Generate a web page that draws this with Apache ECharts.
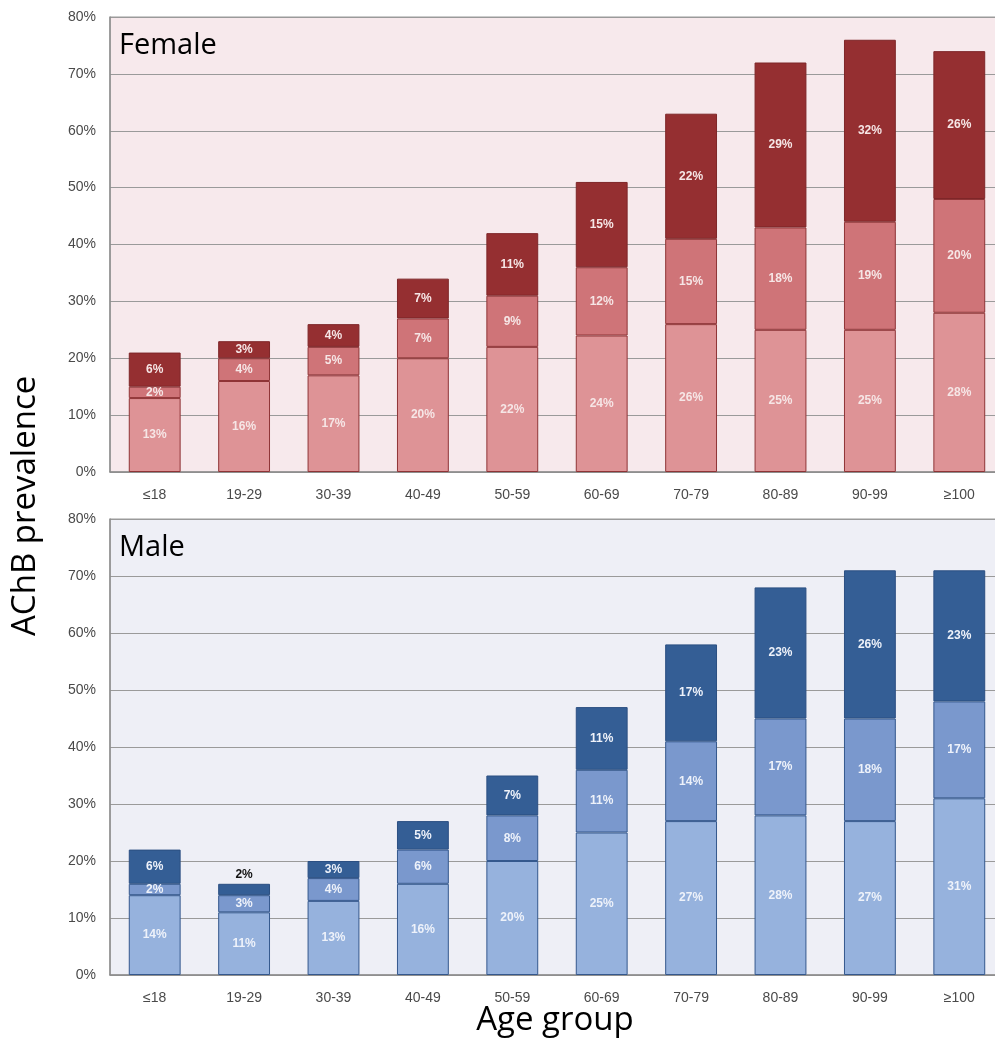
<!DOCTYPE html>
<html>
<head>
<meta charset="utf-8">
<script src="https://cdn.jsdelivr.net/npm/echarts@6/dist/echarts.min.js"></script>
<style>
  html, body { margin: 0; padding: 0; background: #ffffff; overflow: hidden; width: 995px; height: 1047px; }
  #chart { width: 1004px; height: 1047px; }
</style>
</head>
<body>
<div id="chart"></div>
<script>
// Age groups on the shared x axis
var ageGroups = ['≤18', '19-29', '30-39', '40-49', '50-59', '60-69', '70-79', '80-89', '90-99', '≥100'];
var yTicks = [0, 10, 20, 30, 40, 50, 60, 70, 80];

// Female prevalence (%) by burden level, stacked bottom → top
var femaleLow  = [13, 16, 17, 20, 22, 24, 26, 25, 25, 28];
var femaleMid  = [2, 4, 5, 7, 9, 12, 15, 18, 19, 20];
var femaleHigh = [6, 3, 4, 7, 11, 15, 22, 29, 32, 26];

// Male prevalence (%) by burden level, stacked bottom → top
var maleLow  = [14, 11, 13, 16, 20, 25, 27, 28, 27, 31];
var maleMid  = [2, 3, 4, 6, 8, 11, 14, 17, 18, 17];
var maleHigh = [6, 2, 3, 5, 7, 11, 17, 23, 26, 23];

var chart = echarts.init(document.getElementById('chart'), null, { renderer: 'canvas' });

var labelFont = 'Liberation Sans, Arial, sans-serif';

function insideLabel(color) {
  return {
    show: true,
    position: 'inside',
    color: color,
    fontFamily: labelFont,
    fontWeight: 'bold',
    fontSize: 12,
    formatter: function (p) { return p.value + '%'; }
  };
}

function seg(name, data, stack, xIdx, color, border, labelColor, special) {
  return {
    name: name,
    type: 'bar',
    stack: stack,
    xAxisIndex: xIdx,
    yAxisIndex: xIdx,
    barCategoryGap: '42%',
    data: data.map(function (v, i) {
      if (special && special[i]) {
        return { value: v, label: special[i] };
      }
      return v;
    }),
    itemStyle: { color: color, borderColor: border, borderWidth: 1 },
    label: insideLabel(labelColor),
    emphasis: { disabled: true }
  };
}

function xAxis(gridIndex) {
  return {
    type: 'category',
    gridIndex: gridIndex,
    data: ageGroups,
    axisLine: { show: true, lineStyle: { color: '#8c8c8c', width: 1.5 } },
    axisTick: { show: false },
    axisLabel: { color: '#4a4a4a', fontSize: 14, fontFamily: 'Liberation Sans, Arial, sans-serif', margin: 16 }
  };
}

function yAxis(gridIndex) {
  return {
    type: 'value',
    gridIndex: gridIndex,
    min: 0,
    max: 80,
    interval: 10,
    axisLine: { show: true, lineStyle: { color: '#8c8c8c', width: 1.5 } },
    axisTick: { show: false },
    splitLine: { show: true, lineStyle: { color: '#9a9a9a', width: 1 } },
    axisLabel: {
      color: '#4a4a4a', fontSize: 14, fontFamily: 'Liberation Sans, Arial, sans-serif', margin: 14,
      formatter: function (v) { return yTicks.indexOf(v) >= 0 ? v + '%' : ''; }
    }
  };
}

// The small top segment of 19-29 (male) has its label above the bar
var maleHighLabels = [];
maleHighLabels[1] = { position: 'top', color: '#111111', distance: 3 };

var option = {
  animation: false,
  backgroundColor: '#ffffff',
  grid: [
    { left: 110, top: 17, right: 0, height: 455, show: true, backgroundColor: '#f7e9ec', borderColor: '#9a9a9a', borderWidth: 1 },
    { left: 110, top: 519, right: 0, height: 456, show: true, backgroundColor: '#eeeff6', borderColor: '#9a9a9a', borderWidth: 1 }
  ],
  xAxis: [xAxis(0), xAxis(1)],
  yAxis: [yAxis(0), yAxis(1)],
  series: [
    seg('Female low', femaleLow, 'f', 0, '#de9396', '#8f3436', '#f6e6e6'),
    seg('Female mid', femaleMid, 'f', 0, '#cf7478', '#8f3436', '#f6e6e6'),
    seg('Female high', femaleHigh, 'f', 0, '#952f31', '#7e2628', '#f6e6e6'),
    seg('Male low', maleLow, 'm', 1, '#96b2dd', '#34588d', '#eef2fa'),
    seg('Male mid', maleMid, 'm', 1, '#7a98cd', '#34588d', '#eef2fa'),
    seg('Male high', maleHigh, 'm', 1, '#345e95', '#2b4f82', '#eef2fa', maleHighLabels)
  ],
  graphic: [
    { type: 'text', left: 119, top: 31, style: { text: 'Female', font: '29px "Open Sans", "Liberation Sans", sans-serif', fill: '#000000' } },
    { type: 'text', left: 119, top: 533, style: { text: 'Male', font: '29px "Open Sans", "Liberation Sans", sans-serif', fill: '#000000' } },
    {
      type: 'text', x: 9, y: 636, rotation: Math.PI / 2,
      style: { text: 'AChB prevalence', font: '33px "Open Sans", "Liberation Sans", sans-serif', fill: '#000000', textAlign: 'left', textVerticalAlign: 'top' }
    },
    {
      type: 'text', x: 555, y: 1004,
      style: { text: 'Age group', font: '33px "Open Sans", "Liberation Sans", sans-serif', fill: '#000000', textAlign: 'center', textVerticalAlign: 'top' }
    }
  ]
};

chart.setOption(option);
</script>
</body>
</html>
